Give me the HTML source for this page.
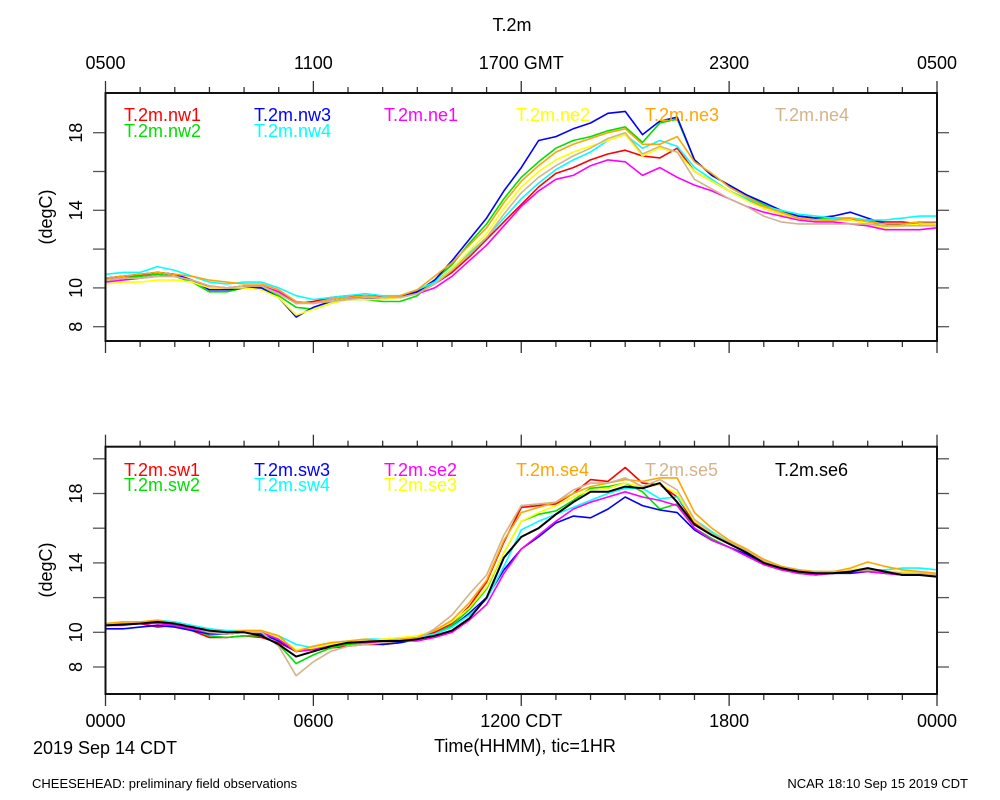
<!DOCTYPE html>
<html><head><meta charset="utf-8"><style>
body{margin:0;background:#fff;}
svg{display:block;font-family:"Liberation Sans",sans-serif;}
</style></head><body>
<svg id="chart" width="1000" height="800" viewBox="0 0 1000 800" xmlns="http://www.w3.org/2000/svg">
<rect width="1000" height="800" fill="#fff"/>
<text x="512" y="31" font-size="18" text-anchor="middle">T.2m</text>
<text x="525" y="783" font-size="13" text-anchor="middle" transform="translate(0,-31) scale(1,1)" style="font-size:18px">Time(HHMM), tic=1HR</text>
<text x="105" y="754" font-size="18" text-anchor="middle">2019 Sep 14 CDT</text>
<text x="32" y="788" font-size="13">CHEESEHEAD: preliminary field observations</text>
<text x="968" y="788" font-size="13" text-anchor="end">NCAR 18:10 Sep 15 2019 CDT</text>
<g id="g1"></g>
<g id="g2"></g>
</svg>
<script>
const hours = [];
for (let i = 0; i <= 48; i++) hours.push(i * 0.5);
const topNames = ["T.2m.nw1","T.2m.nw2","T.2m.nw3","T.2m.nw4","T.2m.ne1","T.2m.ne2","T.2m.ne3","T.2m.ne4"];
const topColors = ["#ff0000","#00e000","#0000ff","#00ffff","#ff00ff","#ffff00","#ffa500","#d2b48c"];
const nw1 = [10.5,10.6,10.65,10.8,10.7,10.4,10.0,10.0,10.1,10.1,9.8,9.2,9.3,9.5,9.6,9.6,9.55,9.6,9.8,10.2,10.8,11.6,12.5,13.4,14.3,15.2,15.9,16.2,16.6,16.9,17.1,16.8,16.7,17.2,16.0,15.5,15.0,14.6,14.1,13.8,13.6,13.5,13.5,13.5,13.5,13.4,13.4,13.3,13.3];
const nw2 = [10.4,10.5,10.6,10.7,10.6,10.3,9.8,9.8,10.0,10.0,9.6,9.0,8.9,9.2,9.4,9.4,9.3,9.3,9.6,10.4,11.2,12.3,13.3,14.6,15.7,16.5,17.2,17.6,17.8,18.1,18.3,17.5,18.5,18.7,16.6,15.8,15.3,14.8,14.3,13.9,13.7,13.6,13.6,13.6,13.5,13.1,13.3,13.4,13.3];
const nw3 = [10.5,10.6,10.7,10.8,10.7,10.4,9.9,9.9,10.0,10.0,9.5,8.5,9.0,9.3,9.4,9.45,9.5,9.5,9.8,10.4,11.4,12.5,13.6,15.0,16.2,17.6,17.8,18.2,18.5,19.0,19.1,17.9,18.6,18.8,16.6,15.8,15.3,14.8,14.4,14.0,13.7,13.6,13.7,13.9,13.6,13.3,13.2,13.3,13.4];
const nw4 = [10.7,10.8,10.8,11.1,10.9,10.6,10.3,10.2,10.3,10.3,10.0,9.6,9.4,9.5,9.6,9.7,9.6,9.6,9.9,10.3,11.0,11.8,12.6,13.6,14.6,15.4,16.1,16.6,17.0,17.6,17.9,17.2,17.6,17.3,16.2,15.6,15.0,14.6,14.2,14.0,13.8,13.7,13.6,13.6,13.5,13.5,13.6,13.7,13.7];
const ne1 = [10.3,10.4,10.5,10.6,10.6,10.4,10.1,10.0,10.1,10.1,9.8,9.3,9.2,9.4,9.5,9.5,9.5,9.5,9.7,10.0,10.6,11.4,12.2,13.2,14.2,15.0,15.6,15.8,16.3,16.6,16.5,15.8,16.2,15.7,15.3,15.0,14.6,14.2,13.9,13.7,13.5,13.4,13.4,13.3,13.2,13.0,13.0,13.0,13.1];
const ne2 = [10.2,10.3,10.3,10.4,10.4,10.3,10.0,10.0,10.0,9.9,9.5,8.6,8.9,9.2,9.4,9.4,9.4,9.5,9.7,10.2,11.0,11.9,12.8,14.1,15.2,16.0,16.6,17.0,17.3,17.6,17.9,16.8,17.2,17.0,16.0,15.5,15.0,14.5,14.1,13.8,13.6,13.5,13.5,13.5,13.3,13.1,13.2,13.3,13.3];
const ne3 = [10.5,10.6,10.7,10.8,10.7,10.6,10.4,10.3,10.2,10.2,9.9,9.3,9.2,9.4,9.5,9.6,9.5,9.6,9.9,10.6,11.3,12.2,13.1,14.4,15.5,16.3,17.0,17.4,17.7,18.0,18.2,17.4,17.4,17.8,16.5,15.9,15.2,14.7,14.2,13.9,13.6,13.5,13.5,13.6,13.4,13.3,13.3,13.4,13.4];
const ne4 = [10.4,10.5,10.5,10.6,10.6,10.4,10.1,10.0,10.1,10.1,9.7,9.2,9.2,9.3,9.4,9.5,9.5,9.5,9.7,10.2,10.9,11.7,12.6,13.8,14.9,15.7,16.3,16.8,17.2,17.7,18.0,16.9,17.3,17.0,15.6,15.1,14.6,14.2,13.7,13.4,13.3,13.3,13.3,13.3,13.3,13.2,13.2,13.2,13.2];
const botNames = ["T.2m.sw1","T.2m.sw2","T.2m.sw3","T.2m.sw4","T.2m.se2","T.2m.se3","T.2m.se4","T.2m.se5","T.2m.se6"];
const botColors = ["#ff0000","#00e000","#0000ff","#00ffff","#ff00ff","#ffff00","#ffa500","#d2b48c","#000000"];
const sw1 = [10.4,10.5,10.5,10.3,10.4,10.1,9.7,9.7,9.8,9.7,9.4,8.9,9.0,9.1,9.2,9.3,9.3,9.4,9.6,10.0,10.5,11.5,12.9,15.2,17.2,17.3,17.4,18.0,18.8,18.7,19.5,18.6,18.5,17.8,16.3,15.7,15.2,14.6,14.0,13.7,13.5,13.4,13.5,13.6,13.6,13.5,13.4,13.4,13.4];
const sw2 = [10.5,10.5,10.6,10.6,10.4,10.2,9.8,9.7,9.8,9.8,9.3,8.2,8.7,9.1,9.3,9.4,9.4,9.4,9.6,9.9,10.4,11.3,12.5,14.6,16.4,16.8,17.0,17.6,18.3,18.4,18.6,18.1,17.1,17.4,16.0,15.4,14.9,14.5,13.9,13.6,13.4,13.3,13.4,13.5,13.6,13.5,13.4,13.3,13.3];
const sw3 = [10.2,10.2,10.3,10.4,10.3,10.1,9.9,9.9,10.0,9.9,9.5,8.9,9.1,9.3,9.4,9.4,9.3,9.4,9.6,9.9,10.3,11.1,12.0,13.6,14.8,15.5,16.3,16.7,16.6,17.1,17.8,17.3,17.05,16.9,15.9,15.3,14.9,14.5,14.0,13.7,13.5,13.4,13.4,13.4,13.5,13.4,13.3,13.3,13.3];
const sw4 = [10.5,10.6,10.6,10.7,10.6,10.4,10.2,10.1,10.1,10.1,9.8,9.3,9.1,9.4,9.5,9.6,9.6,9.6,9.7,9.9,10.3,11.0,11.9,13.8,15.9,16.4,16.8,17.2,17.6,18.0,18.3,18.3,17.7,17.8,16.5,15.8,15.2,14.7,14.2,13.8,13.6,13.5,13.5,13.6,13.6,13.6,13.7,13.7,13.6];
const se2 = [10.4,10.4,10.5,10.5,10.4,10.2,10.0,9.9,10.0,10.0,9.6,8.9,9.0,9.3,9.4,9.4,9.4,9.5,9.5,9.7,10.0,10.7,11.6,13.4,14.8,15.6,16.4,17.1,17.5,17.8,18.1,17.8,17.6,17.3,16.0,15.3,14.9,14.4,13.9,13.6,13.4,13.3,13.4,13.5,13.5,13.4,13.3,13.3,13.4];
const se3 = [10.5,10.5,10.6,10.7,10.5,10.3,10.1,10.0,10.1,10.1,9.7,9.0,9.1,9.3,9.5,9.5,9.6,9.7,9.8,10.1,10.6,11.4,12.6,14.6,16.4,16.9,17.3,17.8,18.2,18.3,18.6,18.4,18.5,18.0,16.4,15.7,15.2,14.7,14.1,13.7,13.5,13.5,13.5,13.6,13.7,13.5,13.5,13.4,13.4];
const se4 = [10.5,10.6,10.6,10.7,10.5,10.3,10.1,10.0,10.1,10.1,9.8,8.9,9.2,9.4,9.5,9.6,9.5,9.6,9.7,10.1,10.7,11.7,13.0,15.3,16.9,17.2,17.5,18.0,18.4,18.6,18.8,18.7,18.9,18.9,16.9,16.0,15.3,14.8,14.2,13.8,13.6,13.5,13.5,13.7,14.05,13.8,13.6,13.5,13.4];
const se5 = [10.4,10.5,10.5,10.6,10.5,10.3,10.0,9.9,10.0,10.0,9.2,7.5,8.3,8.9,9.2,9.3,9.4,9.5,9.6,10.2,11.0,12.2,13.3,15.6,17.3,17.4,17.5,18.2,18.6,18.6,18.9,18.4,18.8,18.2,16.5,15.7,15.2,14.7,14.1,13.7,13.5,13.5,13.5,13.5,13.6,13.5,13.4,13.4,13.3];
const se6 = [10.4,10.45,10.5,10.6,10.5,10.3,10.1,10.0,10.0,9.8,9.3,8.6,8.9,9.2,9.4,9.45,9.5,9.5,9.6,9.8,10.1,10.8,12.0,14.3,15.5,16.0,16.8,17.5,18.1,18.1,18.4,18.3,18.6,17.5,16.2,15.6,15.1,14.6,14.0,13.7,13.5,13.4,13.4,13.5,13.7,13.5,13.3,13.3,13.2];
const topSeries = [nw1,nw2,nw3,nw4,ne1,ne2,ne3,ne4];
const botSeries = [sw1,sw2,sw3,sw4,se2,se3,se4,se5,se6];
const yTickLabels = ["8","10","14","18"];
const yTickValues = [8,10,12,14,16,18];
const topXLabels = ["0500","1100","1700 GMT","2300","0500"];
const botXLabels = ["0000","0600","1200 CDT","1800","0000"];

const NS = "http://www.w3.org/2000/svg";
function mk(tag, attrs, parent) {
  const e = document.createElementNS(NS, tag);
  for (const k in attrs) e.setAttribute(k, attrs[k]);
  parent.appendChild(e);
  return e;
}
const X0 = 105.5, X1 = 937, H0 = 0, H1 = 24;
function xs(h) { return X0 + (h - H0) / (H1 - H0) * (X1 - X0); }

function panel(g, cfg) {
  const ys = v => cfg.y8 - (v - 8) * cfg.pxPerDeg;
  // y ticks
  for (const v of cfg.ticks) {
    const t1 = mk("line", {x1: 93, x2: X0, y1: ys(v), y2: ys(v), stroke: "#555", "stroke-width": 1.3}, g);
    
    
    const t2 = mk("line", {x1: X1, x2: 949, y1: ys(v), y2: ys(v), stroke: "#555", "stroke-width": 1.3}, g);
    
    
  }
  for (const lab of yTickLabels) {
    const v = +lab;
    const t = mk("text", {x: 0, y: 0, "font-size": 18, "text-anchor": "middle", transform: `translate(82,${ys(v)}) rotate(-90)`, dy: 0}, g);
    t.textContent = lab;
    
    
  }
  const yt = mk("text", {"font-size": 18, "text-anchor": "middle", transform: `translate(52,${cfg.titleY}) rotate(-90)`}, g);
  yt.textContent = "(degC)";
  
  
  // x ticks
  for (let h = 0; h <= 24; h++) {
    const major = h % 6 === 0;
    const a = mk("line", {x1: xs(h), x2: xs(h), y1: cfg.top, y2: cfg.top - (major ? 12 : 6), stroke: "#333", "stroke-width": 1.3}, g);
    
    
    const b = mk("line", {x1: xs(h), x2: xs(h), y1: cfg.bot, y2: cfg.bot + (major ? 12 : 6), stroke: "#333", "stroke-width": 1.3}, g);
    
    
  }
  // series
  const clipId = "clip" + cfg.id;
  const cp = mk("clipPath", {id: clipId}, g);
  mk("rect", {x: X0, y: cfg.top, width: X1 - X0, height: cfg.bot - cfg.top}, cp);
  cfg.series.forEach((vals, i) => {
    let d = "";
    vals.forEach((v, j) => { d += (j ? "L" : "M") + xs(hours[j]).toFixed(1) + "," + ys(v).toFixed(1); });
    const p = mk("path", {d: d, fill: "none", stroke: cfg.colors[i], "stroke-width": cfg.colors[i] === "#000000" ? 2 : 1.6, "stroke-linejoin": "round", "clip-path": `url(#${clipId})`}, g);
    
    
  });
  // legend
  cfg.legendPos.forEach((pos, i) => {
    const t = mk("text", {x: pos[0], y: pos[1], "font-size": 18, fill: cfg.colors[i]}, g);
    t.textContent = cfg.names[i];
    
    
  });
  const box = mk("rect", {x: X0, y: cfg.top, width: X1 - X0, height: cfg.bot - cfg.top, fill: "none", stroke: "#111", "stroke-width": 2}, g);
  
  
  // x labels
  cfg.xLabels.forEach((lab, i) => {
    const t = mk("text", {x: xs(i * 6) + (lab.length > 4 ? 0 : 0), y: cfg.xLabY, "font-size": 18, "text-anchor": "middle"}, g);
    t.textContent = lab;
    
    
  });
}
const c1 = [124, 254, 384, 516, 645, 775];
panel(document.getElementById("g1"), {
  id: 1, top: 93, bot: 341, y8: 326.7, pxPerDeg: 19.4, ticks: yTickValues, titleY: 217,
  series: topSeries, colors: topColors, names: topNames, xLabels: topXLabels, xLabY: 69,
  legendPos: [[c1[0],121],[c1[0],137],[c1[1],121],[c1[1],137],[c1[2],121],[c1[3],121],[c1[4],121],[c1[5],121]]
});
panel(document.getElementById("g2"), {
  id: 2, top: 446.7, bot: 694, y8: 667, pxPerDeg: 17.35, ticks: [8,10,12,14,16,18,20], titleY: 570,
  series: botSeries, colors: botColors, names: botNames, xLabels: botXLabels, xLabY: 727,
  legendPos: [[c1[0],476],[c1[0],491],[c1[1],476],[c1[1],491],[c1[2],476],[c1[2],491],[c1[3],476],[c1[4],476],[c1[5],476]]
});
</script>
</body></html>
